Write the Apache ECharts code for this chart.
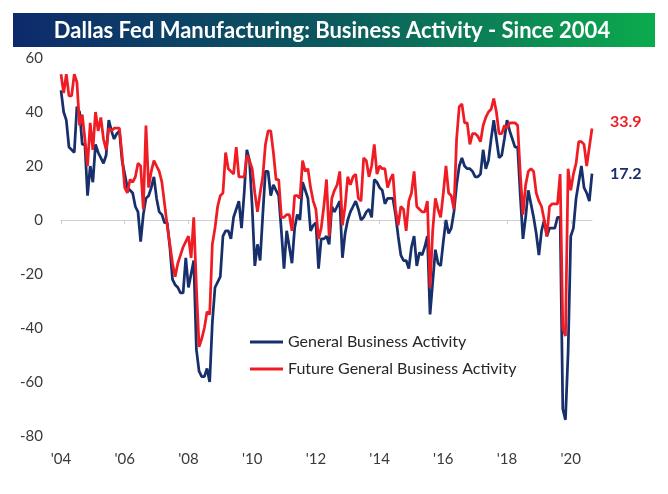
<!DOCTYPE html>
<html><head><meta charset="utf-8">
<script src="https://cdn.jsdelivr.net/npm/echarts@6/dist/echarts.min.js"></script>
<style>html,body{margin:0;padding:0;background:#fff}#c{width:668px;height:494px}</style>
</head><body><div id="c"></div>
<script>
// Monthly categories: Jun 2004 .. Feb 2021
const months = [];
for (let y = 2004, m = 6; months.length < 201; ) {
  months.push(y + '-' + String(m).padStart(2, '0'));
  m++; if (m > 12) { m = 1; y++; }
}
const tickLabels = ["'04", "'06", "'08", "'10", "'12", "'14", "'16", "'18", "'20"];

const general = [
  48,40,37,27,26,25,42,40,28,28,
  9,20,14,28,25,23,21,24,37,33,
  30,32,33,22,17,12,11,10,5,3,
  -8,2,8,9,12,16,8,3,2,-1,
  -1,-10,-22,-24,-25,-27,-27,-14,-25,-20,
  -15,-48,-56,-58,-58,-55,-60,-38,-25,-23,
  -21,-6,-4,-4,-7,1,4,7,-3,10,
  26,22,5,-17,-9,-15,2,18,18,9,
  13,11,9,-4,-18,-4,-10,-16,-3,2,
  0,14,11,8,-4,-2,-1,-18,-7,-7,
  -6,-9,5,3,5,7,-14,-5,0,3,
  5,7,4,0,1,3,4,1,15,14,
  12,11,6,8,8,8,2,-6,-13,-15,
  -15,-18,-10,-6,-17,-12,-13,-10,-6,-35,
  -23,-11,-16,-17,-8,0,-5,-3,3,13,
  20,23,20,19,19,18,16,16,17,26,
  19,22,30,37,30,23,24,30,37,33,
  30,27,27,9,-7,1,11,6,1,-5,
  -13,-4,0,-6,-3,-3,-3,1,1,-70,
  -74,-49,-6,-3,8,14,20,12,10,7,17.2
];
const future = [
  54,47,54,46,46,54,51,35,39,30,
  20,36,26,40,33,38,30,26,34,33,
  34,34,34,24,12,10,15,14,16,21,
  20,4,35,12,18,22,20,18,14,6,
  -2,-9,-16,-21,-16,-13,-10,-8,-6,-14,
  1,-25,-47,-44,-40,-34,-35,-9,-3,5,
  9,10,25,19,18,17,27,16,16,16,
  24,22,19,10,3,10,16,28,33,33,
  25,15,15,1,1,2,2,-4,9,9,
  8,22,18,19,12,7,4,-7,-3,5,
  15,-6,8,11,13,18,-2,5,16,13,
  16,17,8,7,23,22,16,20,28,17,
  20,19,19,12,15,17,4,-2,5,4,
  -4,7,10,18,5,4,3,3,7,-25,
  -4,8,4,1,10,20,10,9,4,30,
  42,43,36,36,28,32,32,31,29,35,
  38,40,41,45,40,32,32,35,34,36,
  36,36,35,17,2,13,18,19,18,10,
  7,5,0,-6,5,6,6,6,17,-40,
  -43,19,11,17,21,29,29,28,20,27,33.9
];

const BLUE = '#172f6b', RED = '#f01c24', FONT = 'Lato';
const chart = echarts.init(document.getElementById('c'), null, {renderer: 'canvas'});
chart.setOption({
  animation: false,
  backgroundColor: '#fff',
  textStyle: {fontFamily: FONT},
  graphic: [
    {type: 'rect', shape: {x: 13, y: 13, width: 642, height: 34},
     style: {fill: {type: 'linear', x: 0, y: 0, x2: 1, y2: 0,
       colorStops: [{offset: 0, color: '#0d2a6c'}, {offset: 0.5, color: '#0c5a5e'}, {offset: 1, color: '#0bab4d'}]}}},
    {type: 'text', x: 332, y: 31,
     style: {text: 'Dallas Fed Manufacturing: Business Activity - Since 2004', fill: '#fff',
       font: 'bold 22px ' + FONT, textAlign: 'center', textVerticalAlign: 'middle'}}
  ],
  grid: {left: 61, right: 76, top: 58, bottom: 58, containLabel: false},
  legend: {
    orient: 'vertical', left: 245, top: 329, itemWidth: 33, itemHeight: 3, itemGap: 11,
    icon: 'rect',
    textStyle: {fontSize: 16, color: '#262626', fontFamily: FONT},
    data: ['General Business Activity', 'Future General Business Activity']
  },
  xAxis: [
    {type: 'category', data: months, boundaryGap: false,
     axisLine: {onZero: true, lineStyle: {color: '#d0d0d0', width: 1}},
     axisTick: {show: true, interval: 23, length: 4, lineStyle: {color: '#d0d0d0'}},
     axisLabel: {show: false}, splitLine: {show: false}},
    {type: 'category', data: months, boundaryGap: false, position: 'bottom',
     axisLine: {show: false, onZero: false}, axisTick: {show: false},
     axisLabel: {interval: 23, margin: 16, fontSize: 15, color: '#3a3a3a', fontFamily: FONT,
       formatter: (v, i) => tickLabels[Math.round(i / 24)]},
     splitLine: {show: false}}
  ],
  yAxis: {
    type: 'value', min: -80, max: 60, interval: 20,
    axisLine: {show: false}, axisTick: {show: false}, splitLine: {show: false},
    axisLabel: {margin: 18, fontSize: 15, color: '#3a3a3a', fontFamily: FONT}
  },
  series: [
    {name: 'General Business Activity', type: 'line', data: general, xAxisIndex: 0,
     showSymbol: false, symbol: 'none', color: BLUE,
     lineStyle: {width: 2.75, color: BLUE},
     endLabel: {show: true, formatter: p => p.value.toFixed(1), color: BLUE, fontWeight: 'bold',
       fontSize: 16, fontFamily: FONT, distance: 18, offset: [0, 0]}},
    {name: 'Future General Business Activity', type: 'line', data: future, xAxisIndex: 0,
     showSymbol: false, symbol: 'none', color: RED,
     lineStyle: {width: 2.75, color: RED},
     endLabel: {show: true, formatter: p => p.value.toFixed(1), color: RED, fontWeight: 'bold',
       fontSize: 16, fontFamily: FONT, distance: 18, offset: [0, -7]}}
  ]
});
</script>
</body></html>
